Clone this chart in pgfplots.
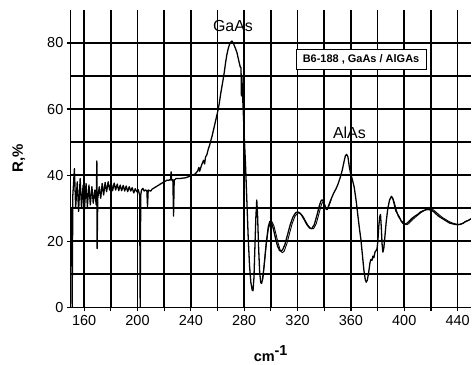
\documentclass[border=0pt]{standalone}
\usepackage{fontspec}
\setmainfont{Liberation Sans}
\usepackage{pgfplots}
\pgfplotsset{compat=1.18}
\begin{document}
\begin{tikzpicture}
\begin{axis}[
  scale only axis, width=401pt, height=298pt,
  xmin=150, xmax=450, ymin=0, ymax=90,
  axis x line=bottom, axis y line=left,
  axis line style={-, line width=1.2pt},
  xtick={160,180,...,440},
  xticklabels={160,,200,,240,,280,,320,,360,,400,,440},
  ytick={0,20,...,80},
  minor ytick={10,30,50,70},
  grid=both,
  major grid style={black, line width=1.6pt},
  minor grid style={black, line width=1.6pt},
  tick align=outside,
  major tick length=4pt, minor tick length=0pt,
  tick style={black, line width=1.2pt},
  /pgf/number format/assume math mode=true,
  ticklabel style={font=\fontsize{14.5}{17}\selectfont},
  xticklabel style={yshift=-1pt},
  xlabel={\bfseries cm$^{\textbf{-1}}$},
  ylabel={\bfseries R,\%},
  xlabel style={at={(axis description cs:0.5,-0.181)}, anchor=base, font=\fontsize{14.5}{17}\selectfont},
  ylabel style={at={(axis description cs:-0.12,0.5)}, anchor=base, font=\fontsize{15}{18}\selectfont},
  clip=true,
]
\addplot[black, line width=1.3pt, line join=round] coordinates {
(150.5,30) (151,0) (151.5,34) (152.7,42) (153.6,30) (154.8,38) (155.8,29) (157,39) (158,30) (159.2,37)
(160.2,29.5) (161.4,37.5) (162.4,30.5) (163.6,37) (164.6,31) (165.8,36.5) (166.8,31.5) (168,35.5) (169,31) (169.5,44.3)
(169.7,17.8) (170.2,33) (171.3,36.5) (172.4,33) (173.5,37.5) (174.6,34) (175.7,37.8) (176.8,35) (178,38) (179.1,35.5)
(180.2,37.8) (181.3,35.3) (182.5,37.6) (183.6,35.5) (184.8,37.3) (185.9,35.3) (187,37) (188.1,35.3) (189.3,36.9) (190.4,35.2)
(191.5,36.7) (192.6,35) (193.8,36.5) (194.9,35.2) (196,36.2) (197.2,34.6) (198.3,35.9) (199.4,35) (200.5,35.6) (201.6,34)
(202,0) (202.4,34) (203,35.5)
(204,36) (205,35.2) (206,35.5) (207,35.3) (207.5,30.5) (208,35.5) (209,35.3) (210,35.2) (211,35.8) (212,36)
(213,36.3) (214,36.5) (215,36.8) (216,37) (217,37.3) (218,37.5) (219,37.8) (220,38) (221,38.2) (222,38.5)
(223,38.4) (224,38.6) (224.8,38.5) (225.2,41) (225.6,38.5) (226.5,38.6) (227,27.6) (227.5,38.5) (229,39) (232,39)
(236,39.2) (240,39.8) (243,40.3) (245,41.2) (246,42.3) (246.6,41.2) (248,43) (249.5,44.5) (250.3,43.4) (251,45.5)
(252,46.2) (253,47.8) (254,49) (256,52) (258,55.5) (260,59) (261.2,61.5) (262.5,65) (264,68.5) (265,71)
(266,74) (267,76.5) (268,78.3) (269,79.6) (270,80.3) (270.8,80.6) (271.8,80) (273,78.8) (274.5,77.2) (276,74.5)
(277,72.8) (277.6,72.5) (277.9,64) (278.2,70) (279,62) (280,52) (281,43) (282,32) (283,21) (284,12.5)
(285,7.5) (286,5.2) (286.6,5) (287.3,9) (288,18) (288.7,27) (289.4,32.5) (290,28) (290.8,18) (291.6,10.5)
(292.4,7.5) (293,7.2) (294,8.8) (295,13) (296.5,19.5) (298,24.3) (299.2,26) (300.5,25.6) (302,23.5) (303.5,20.8)
(305,18.5) (306.5,17.2) (307.5,17) (308.8,17.4) (310.5,19) (312.5,22) (314.5,25) (316.5,27.3) (318.5,28.6) (320,28.9)
(321.5,28.6) (323,27.9) (325,26.5) (327,25) (329,24) (330.6,23.8) (332.5,25) (334.5,27.8) (336.5,31) (337.8,32.4)
(338.8,32.5) (340,31.2) (341.2,29.8) (342.2,29.6) (343.5,31) (345,32.6) (347,34.5) (349,36) (350.5,37.5) (352,39.3)
(353.5,41.5) (354.8,44) (355.8,45.8) (356.8,46.3) (357.8,45.5) (358.8,42.5) (359.8,40.5) (361,38.8) (362.5,36.3) (364,32)
(365.3,27.5) (366.5,23.5) (367.5,20.5) (368.7,15.5) (369.8,11) (370.8,8.3) (371.5,7.6) (372.3,8.2) (373.3,10.5) (374.3,13.5)
(375,14.5) (375.8,14.2) (376.5,15.5) (377.2,15) (378.1,16.8) (379,17.2) (379.6,17.8) (380.2,20) (380.9,24.5) (381.6,27.5)
(382.2,28.1) (382.8,24) (383.4,19) (384,16.7) (384.7,18) (385.5,21.5) (386.5,26) (387.7,30) (389,32.5) (390.4,33.6)
(391.5,32.8) (392.6,31) (393.7,29.2) (394.8,28.4) (395.8,27.4) (396.8,26.8) (397.8,26) (399,25.4) (400.5,25.2) (402,25.4)
(404,26.2) (406,27) (408,27.6) (410,28.1) (412,28.8) (414,29.2) (416,29.5) (418,29.6) (420,29.4) (422,29)
(424,28.2) (426,27.5) (428,27) (430,26.5) (432,26) (434,25.5) (436,25.3) (438,25.1) (440,25) (442,25.1)
(444,25.4) (446,26) (448,26.3) (450,26.8)
};
\addplot[black, line width=0.9pt, line join=round] coordinates {
(293.5,8.5) (294.8,12) (296.3,18) (298,23.5) (299.5,25.6) (300.8,25.9) (302.3,24.6) (303.8,22.2) (305.3,19.6) (307,17.3)
(308.5,16.5) (310,17) (312,19.3) (314,22.4) (316,25.4) (318,27.5) (320,28.5) (322,28.5) (324,27.6) (326,26.1)
(328,24.7) (330,23.8) (332,23.8) (334,25.3) (336,28.3) (338,31.3) (339.5,32.1) (341,30.4) (342.5,29.6) (344,31.2)
(345.2,32.6)
};
\addplot[black, line width=0.9pt, line join=round] coordinates {
(391,33.4) (392.5,31.8) (393.8,29.8) (395,28.2) (396.3,27.5) (397.5,26.3) (399,25.8) (400.5,25.2) (402,25) (403.5,25.4)
(405,26) (407,26.8) (409,27.5) (411,28.2) (413,28.8) (415,29.3) (417,29.7) (419,29.9) (421,29.7) (423,29.1)
(425,28.4) (427,27.7) (429,27.1) (431,26.6) (433,26.1) (435,25.7) (437,25.4) (439,25.2) (441,25.1) (443,25.3)
(445,25.7) (447,26.1) (449,26.5) (450,26.7)
};
\node[font=\fontsize{16}{19}\selectfont] at (axis cs:271.6,85.2) {GaAs};
\node[font=\fontsize{16}{19}\selectfont] at (axis cs:358.9,52.7) {AlAs};
\node[draw=black, line width=0.6pt, fill=white, inner sep=0pt, minimum width=130pt, minimum height=20pt,
      font=\bfseries\fontsize{11}{13}\selectfont] at (axis cs:367.6,75.15) {B6-188 , GaAs / AlGAs};
\end{axis}
\path (current axis.south west) ++(-71pt,-55.3pt) coordinate (bbA);
\path (current axis.north east) ++(1pt,10pt) coordinate (bbB);
\path (bbA) rectangle (bbB);
\end{tikzpicture}
\end{document}
